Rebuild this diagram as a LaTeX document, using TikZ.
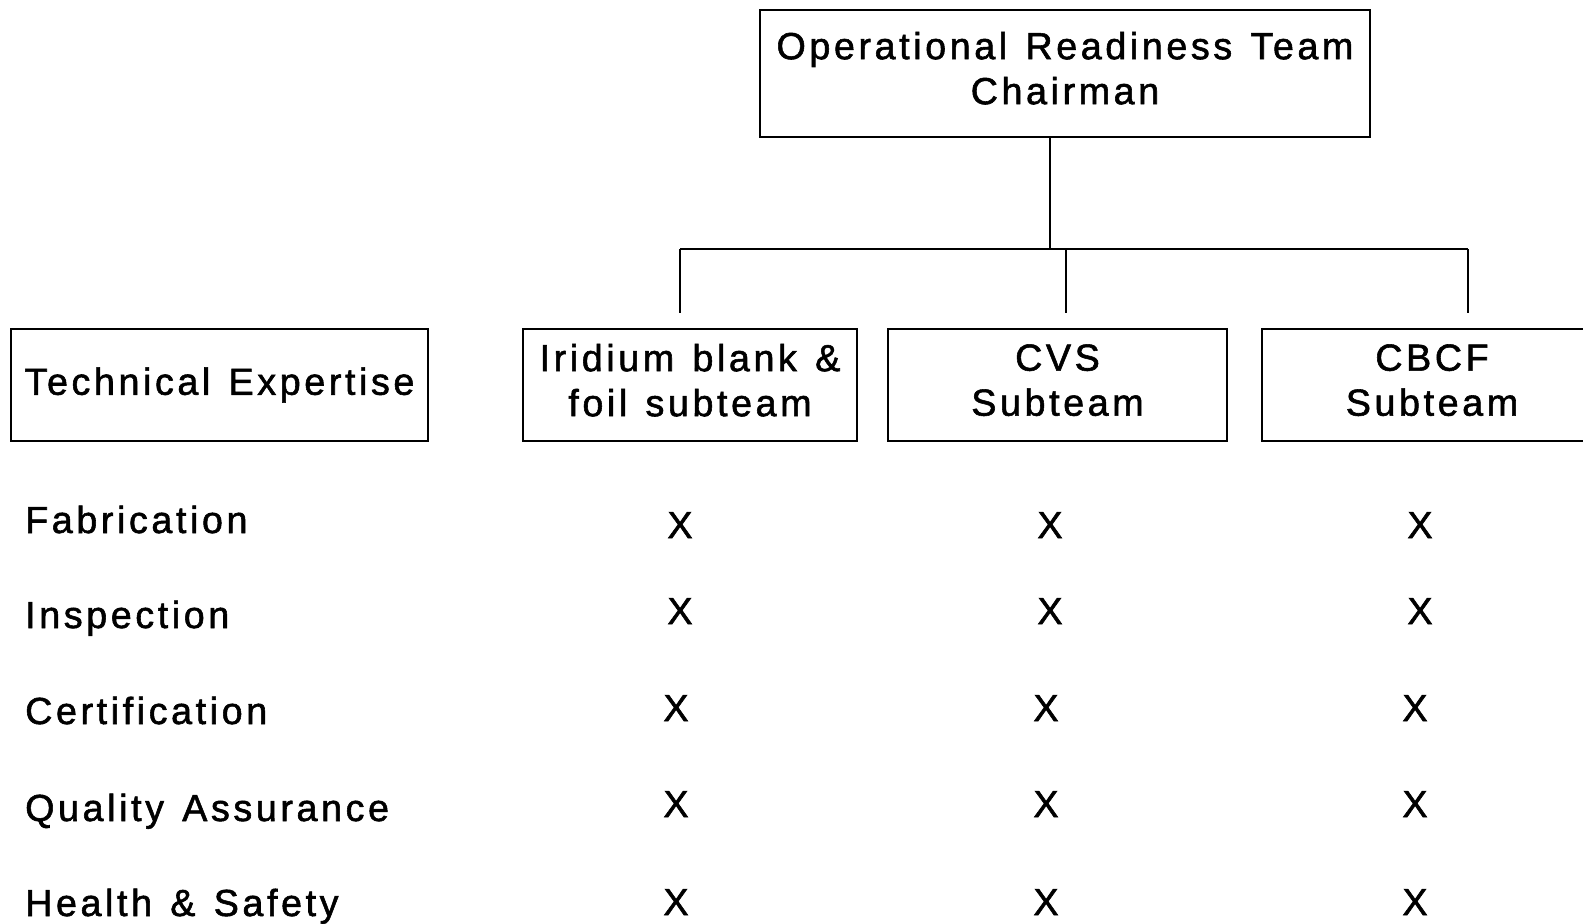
\documentclass[tikz,border=0pt]{standalone}
\usepackage{fontspec}
\setmainfont{Liberation Sans}[LetterSpace=9.5, WordSpace=1.3, FakeBold=1.5]
\newcommand\lowpad[1]{\rule[-#1]{0pt}{#1}}
\begin{document}
\begin{tikzpicture}[x=1pt,y=-1pt,
  every node/.style={font=\fontsize{37.7}{45}\selectfont, inner sep=0pt},
  box/.style={draw, line width=1.8pt, align=center, minimum height=112},
  wire/.style={line width=2pt},
  rowlbl/.style={anchor=base west},
  xmark/.style={anchor=base}]
\useasboundingbox (0,0) rectangle (1583,924);

% chairman and the subteam boxes
\node[box, minimum width=610, minimum height=127] (chair) at (1065,73.5)
  {Operational Readiness Team\\Chairman\lowpad{11pt}};
\node[box, minimum width=417] (tech) at (219.5,385) {Technical Expertise};
\node[box, minimum width=334] (irid) at (690,385)
  {Iridium blank \&\\foil subteam\lowpad{10pt}};
\node[box, minimum width=339] (cvs) at (1057.5,385)
  {CVS\\Subteam\lowpad{10pt}};
\node[box, minimum width=340] (cbcf) at (1432,385)
  {CBCF\\Subteam\lowpad{10pt}};

% tree connectors
\coordinate (j) at (1050,249);
\coordinate (d1) at (680,313);
\coordinate (d2) at (1066,313);
\coordinate (d3) at (1468,313);
\draw[wire] (chair.south -| j) -- (j);
\draw[wire] (d1 |- j) -- (d3 |- j);
\draw[wire] (d1 |- j) -- (d1);
\draw[wire] (d2 |- j) -- (d2);
\draw[wire] (d3 |- j) -- (d3);

% expertise rows
\node[rowlbl] (fab)  at (25,533) {Fabrication};
\node[rowlbl] (insp) at (25,628) {Inspection};
\node[rowlbl] (cert) at (25,724) {Certification};
\node[rowlbl] (qa)   at (25,821) {Quality Assurance};
\node[rowlbl] (hs)   at (25,916) {Health \& Safety};

% marks
\node[xmark] (x11) at (680,538) {X};
\node[xmark] (x12) at (1050,538) {X};
\node[xmark] (x13) at (1420,538) {X};
\node[xmark] (x21) at (680,624) {X};
\node[xmark] (x22) at (1050,624) {X};
\node[xmark] (x23) at (1420,624) {X};
\node[xmark] (x31) at (676,721) {X};
\node[xmark] (x32) at (1046,721) {X};
\node[xmark] (x33) at (1415,721) {X};
\node[xmark] (x41) at (676,817) {X};
\node[xmark] (x42) at (1046,817) {X};
\node[xmark] (x43) at (1415,817) {X};
\node[xmark] (x51) at (676,915) {X};
\node[xmark] (x52) at (1046,915) {X};
\node[xmark] (x53) at (1415,915) {X};
\end{tikzpicture}
\end{document}
